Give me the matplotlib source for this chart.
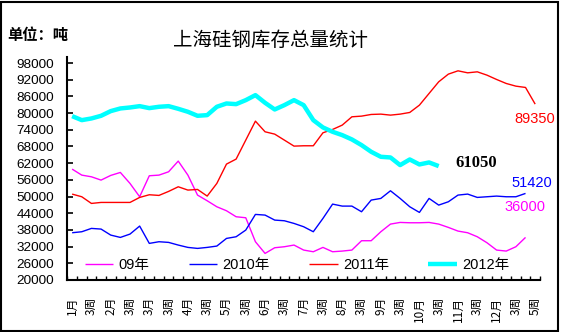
import numpy as np
import matplotlib
matplotlib.use("Agg")
import matplotlib.pyplot as plt
from matplotlib.patches import Rectangle

plt.rcParams['font.family'] = ['Liberation Sans', 'Noto Sans CJK SC', 'DejaVu Sans']

title = "上海硅钢库存总量统计"
unit_label = "单位：吨"

tick_labels = ["1月", "3周", "2月", "3周", "3月", "3周", "4月", "3周", "5月", "3周",
               "6月", "3周", "7月", "3周", "8月", "3周", "9月", "3周", "10月", "3周",
               "11月", "3周", "12月", "3周", "5周"]
n_categories = 49

y_ticks = [20000, 26000, 32000, 38000, 44000, 50000, 56000, 62000, 68000,
           74000, 80000, 86000, 92000, 98000]

series_names = ["09年", "2010年", "2011年", "2012年"]

s2009 = [59870, 57710, 57110, 55920, 57600, 58670, 54720, 49930, 57480, 57710,
         58910, 62750, 57710, 50530, 48490, 46330, 44900, 42740, 42380, 33760,
         29560, 31600, 31960, 32560, 30760, 30160, 31720, 30160, 30400, 30760,
         34120, 34120, 37350, 40100, 40700, 40580, 40580, 40700, 40100, 38910,
         37590, 36990, 35550, 33400, 30760, 30400, 31960, 35310]

s2010 = [36990, 37350, 38550, 38310, 36150, 35310, 36510, 39390, 33160, 33760,
         33520, 32560, 31720, 31360, 31720, 32200, 34950, 35550, 37950, 43580,
         43340, 41540, 41300, 40340, 39150, 37350, 42140, 47290, 46570, 46570,
         44540, 48730, 49330, 52080, 49330, 46330, 44300, 49330, 46930, 48130,
         50530, 50890, 49690, 49930, 50170, 49930, 49930, 51130]

s2011 = [50890, 49930, 47530, 47890, 47890, 47890, 47890, 49690, 50650, 50410,
         51850, 53520, 52330, 52560, 50170, 54720, 61670, 63470, 70300, 77120,
         73290, 72450, 70300, 68140, 68260, 68260, 72930, 74130, 75690, 78680,
         78920, 79520, 79640, 79280, 79640, 80240, 82870, 87070, 91260, 94020,
         95210, 94490, 94850, 93660, 92100, 90660, 89700, 89230, 83230]

s2012 = [78920, 77480, 78080, 79040, 80720, 81680, 82030, 82510, 81800, 82280,
         82510, 81550, 80480, 79040, 79280, 82280, 83470, 83230, 84670, 86470,
         83710, 81310, 82870, 84670, 82870, 77480, 74850, 73290, 72090, 70540,
         68500, 66100, 64300, 64060, 61310, 63340, 61550, 62270, 60950]

end_labels = ["89350", "61050", "51420", "36000"]

W, H = 561, 332
fig = plt.figure(figsize=(W / 100, H / 100), dpi=100)
ax = fig.add_axes([67.3 / W, 1 - 280 / H, (540 - 67.3) / W, (280 - 57.5) / H])

colors = ["#FF00FF", "#0000FF", "#FF0000", "#00FFFF"]
widths = [1.0, 1.0, 1.0, 3.2]
for name, data, c, lw in zip(series_names, [s2009, s2010, s2011, s2012], colors, widths):
    ax.plot(np.arange(len(data)), data, color=c, lw=lw, label=name,
            solid_joinstyle='round', solid_capstyle='butt')

ax.set_xlim(-0.5, n_categories - 0.5)
ax.set_ylim(20000, 100000)
ax.set_yticks(y_ticks)
ax.set_yticklabels([str(v) for v in y_ticks], fontsize=9.7, family='Liberation Sans')
ax.tick_params(axis='y', direction='in', length=4, width=1.2, pad=9.5)

ax.set_xticks(np.arange(-0.5, n_categories, 1))
ax.set_xticklabels([])
ax.tick_params(axis='x', which='major', direction='in', length=3, width=1.0)
ax.set_xticks(np.arange(0, n_categories, 2), minor=True)
ax.set_xticklabels(tick_labels, minor=True, rotation=90, fontsize=8.5,
                   family=['Noto Sans CJK SC'])
ax.tick_params(axis='x', which='minor', length=0, pad=12)

for side in ['top', 'right']:
    ax.spines[side].set_visible(False)
for side in ['left', 'bottom']:
    ax.spines[side].set_linewidth(1.5)
    ax.spines[side].set_color('black')

leg = ax.legend(loc='center left', bbox_to_anchor=(85 / W, 1 - 265 / H),
                bbox_transform=fig.transFigure, ncol=4, frameon=False,
                fontsize=10.5, handlelength=1.95, handletextpad=0.35,
                columnspacing=2.7, borderaxespad=0, borderpad=0)

fig.text(270 / W, 1 - 40 / H, title, ha='center', va='center', fontsize=14,
         family=['Noto Sans CJK SC'])
fig.text(7 / W, 1 - 35 / H, unit_label, ha='left', va='center', fontsize=11,
         fontweight='bold', family=['Noto Sans CJK SC'])

fig.text(514 / W, 1 - 119 / H, end_labels[0], color='#FF0000', ha='left', va='center',
         fontsize=10.5)
fig.text(455 / W, 1 - 163 / H, end_labels[1], color='black', ha='left', va='center',
         fontsize=12, fontweight='bold', family='Liberation Serif')
fig.text(511 / W, 1 - 183 / H, end_labels[2], color='#0000FF', ha='left', va='center',
         fontsize=10.5)
fig.text(504 / W, 1 - 207 / H, end_labels[3], color='#FF00FF', ha='left', va='center',
         fontsize=10.5)

fig.patches.append(Rectangle((0.8 / W, 0.8 / H), (W - 3.5) / W, (H - 3) / H,
                             transform=fig.transFigure, fill=False,
                             edgecolor='black', linewidth=1.5))

fig.savefig("out.png", dpi=100)
